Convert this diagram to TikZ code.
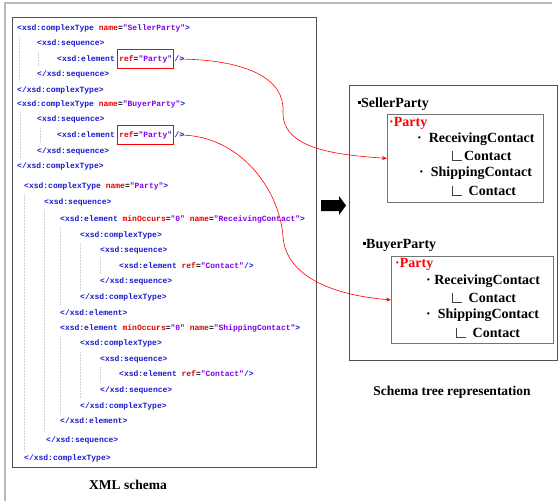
\documentclass[tikz,border=0pt]{standalone}
\usepackage{fontspec}
\setmainfont{Liberation Serif}
\newfontfamily\codefont{Liberation Mono}
\usetikzlibrary{positioning,arrows.meta}

\definecolor{xtag}{RGB}{25,25,205}
\definecolor{xattr}{RGB}{225,0,0}
\definecolor{xval}{RGB}{125,0,235}
\definecolor{framegray}{RGB}{80,80,80}

\newcommand{\tg}[1]{\textcolor{xtag}{#1}}
\newcommand{\at}[1]{\textcolor{xattr}{#1}}
\newcommand{\vl}[1]{\textcolor{xval}{#1}}
\newcommand{\sqbullet}{\rule[3.5pt]{3pt}{3pt}}
\newcommand{\lbend}{{\color{black!75}\rule{0.5pt}{10pt}\rule{9pt}{0.5pt}}}

\tikzset{
  codeline/.style={anchor=west, inner sep=0pt, font=\codefont\bfseries\fontsize{8}{9}\selectfont},
  refbox/.style={codeline, draw=red, line width=0.6pt, inner xsep=1.6pt, minimum height=19pt},
  treeline/.style={anchor=west, inner sep=0pt, font=\bfseries\fontsize{14}{16}\selectfont},
  guide/.style={gray!35, densely dotted, line width=0.5pt},
  link/.style={red, line width=0.6pt, -{Stealth[length=5pt,width=4pt]}},
  partybox/.style={draw=framegray!80, line width=0.8pt, anchor=north west, inner sep=0pt},
}

\begin{document}
\begin{tikzpicture}[x=1pt,y=-1pt]
\useasboundingbox (0,0) rectangle (559,501);
\draw[gray!55, line width=1.5pt] (5,501) -- (5,3) -- (552,3);

% XML schema
\draw[framegray, line width=0.9pt] (12,17) rectangle (316,467);
\draw[guide] (19,37) -- (19,82);
\draw[guide] (38,52) -- (38,67);
\draw[guide] (20,112) -- (20,158);
\draw[guide] (40,128) -- (40,143);
\draw[guide] (24,194) -- (24,452);
\draw[guide] (44,210) -- (44,432);
\draw[guide] (60,227) -- (60,305);
\draw[guide] (60,336) -- (60,413);
\draw[guide] (80,243) -- (80,290);
\draw[guide] (80,352) -- (80,398);
\draw[guide] (100,258) -- (100,274);
\draw[guide] (100,367) -- (100,382);

\node[codeline] (l1) at (17,28) {\tg{<xsd:complexType} \at{name}=\vl{"SellerParty"}\tg{>}};
\node[codeline] (l2) at (37,43) {\tg{<xsd:sequence>}};
\node[codeline] (l3) at (57,59) {\tg{<xsd:element}};
\node[refbox, right=2.4pt of l3] (refS) {\at{ref}=\vl{"Party"}};
\node[codeline, right=0.5pt of refS] (endS) {\tg{/>}};
\node[codeline] (l4) at (37,74) {\tg{</xsd:sequence>}};
\node[codeline] (l5) at (17,90) {\tg{</xsd:complexType>}};
\node[codeline] (l6) at (17,104) {\tg{<xsd:complexType} \at{name}=\vl{"BuyerParty"}\tg{>}};
\node[codeline] (l7) at (37,119) {\tg{<xsd:sequence>}};
\node[codeline] (l8) at (57,135) {\tg{<xsd:element}};
\node[refbox, right=2.4pt of l8] (refB) {\at{ref}=\vl{"Party"}};
\node[codeline, right=0.5pt of refB] (endB) {\tg{/>}};
\node[codeline] (l9) at (37,151) {\tg{</xsd:sequence>}};
\node[codeline] (l10) at (17,166) {\tg{</xsd:complexType>}};

\node[codeline] (l11) at (24,186) {\tg{<xsd:complexType} \at{name}=\vl{"Party"}\tg{>}};
\node[codeline] (l12) at (44,202) {\tg{<xsd:sequence>}};
\node[codeline] (l13) at (60,219) {\tg{<xsd:element} \at{minOccurs}=\vl{"0"} \at{name}=\vl{"ReceivingContact"}\tg{>}};
\node[codeline] (l14) at (80,235) {\tg{<xsd:complexType>}};
\node[codeline] (l15) at (100,250) {\tg{<xsd:sequence>}};
\node[codeline] (l16) at (119,266) {\tg{<xsd:element} \at{ref}=\vl{"Contact"}\tg{/>}};
\node[codeline] (l17) at (100,281) {\tg{</xsd:sequence>}};
\node[codeline] (l18) at (80,297) {\tg{</xsd:complexType>}};
\node[codeline] (l19) at (60,313) {\tg{</xsd:element>}};
\node[codeline] (l20) at (60,328) {\tg{<xsd:element} \at{minOccurs}=\vl{"0"} \at{name}=\vl{"ShippingContact"}\tg{>}};
\node[codeline] (l21) at (80,343) {\tg{<xsd:complexType>}};
\node[codeline] (l22) at (100,359) {\tg{<xsd:sequence>}};
\node[codeline] (l23) at (119,374) {\tg{<xsd:element} \at{ref}=\vl{"Contact"}\tg{/>}};
\node[codeline] (l24) at (100,390) {\tg{</xsd:sequence>}};
\node[codeline] (l25) at (80,406) {\tg{</xsd:complexType>}};
\node[codeline] (l26) at (60,421) {\tg{</xsd:element>}};
\node[codeline] (l27) at (46,440) {\tg{</xsd:sequence>}};
\node[codeline] (l28) at (24,458) {\tg{</xsd:complexType>}};

\node[font=\bfseries\fontsize{13.5}{16}\selectfont] (xmlCap) at (128,485) {XML schema};

% big arrow
\fill (321,200) -- (339,200) -- (339,196) -- (346,205.5) -- (339,215) -- (339,211) -- (321,211) -- cycle;

% schema tree
\draw[framegray, line width=0.9pt] (349,85) rectangle (557,360);
\node[treeline] (sellerName) at (358,104) {\sqbullet SellerParty};
\node[partybox, minimum width=156pt, minimum height=88pt] (sellerParty) at (387,114) {};
\node[treeline, text=red] (sParty) at (389,123) {·Party};
\node[treeline] (sRecv) at (417,139) {·\ \ ReceivingContact};
\node[treeline] (sRecvC) at (452,156) {\lbend\,Contact};
\node[treeline] (sShip) at (419,173) {·\ \ ShippingContact};
\node[treeline] (sShipC) at (452,191) {\lbend\ \ Contact};

\node[treeline] (buyerName) at (363,245) {\sqbullet BuyerParty};
\node[partybox, minimum width=162pt, minimum height=87pt] (buyerParty) at (391,256) {};
\node[treeline, text=red] (bParty) at (395,264) {·Party};
\node[treeline] (bRecv) at (426,281) {·\ ReceivingContact};
\node[treeline] (bRecvC) at (452,298) {\lbend\ \ Contact};
\node[treeline] (bShip) at (426,315) {·\ \ ShippingContact};
\node[treeline] (bShipC) at (456,333) {\lbend\ \ Contact};

\node[font=\bfseries\fontsize{13.5}{16}\selectfont] (treeCap) at (452,392) {Schema tree representation};

% ref links
\draw[link] (endS.center) .. controls (250,60) and (285,80) .. (283,112)
            .. controls (282,150) and (340,155) .. (sellerParty.west);
\draw[link] (endB.center) .. controls (240,135) and (280,190) .. (283,237)
            .. controls (286,275) and (330,295) .. (buyerParty.west);
\end{tikzpicture}
\end{document}
